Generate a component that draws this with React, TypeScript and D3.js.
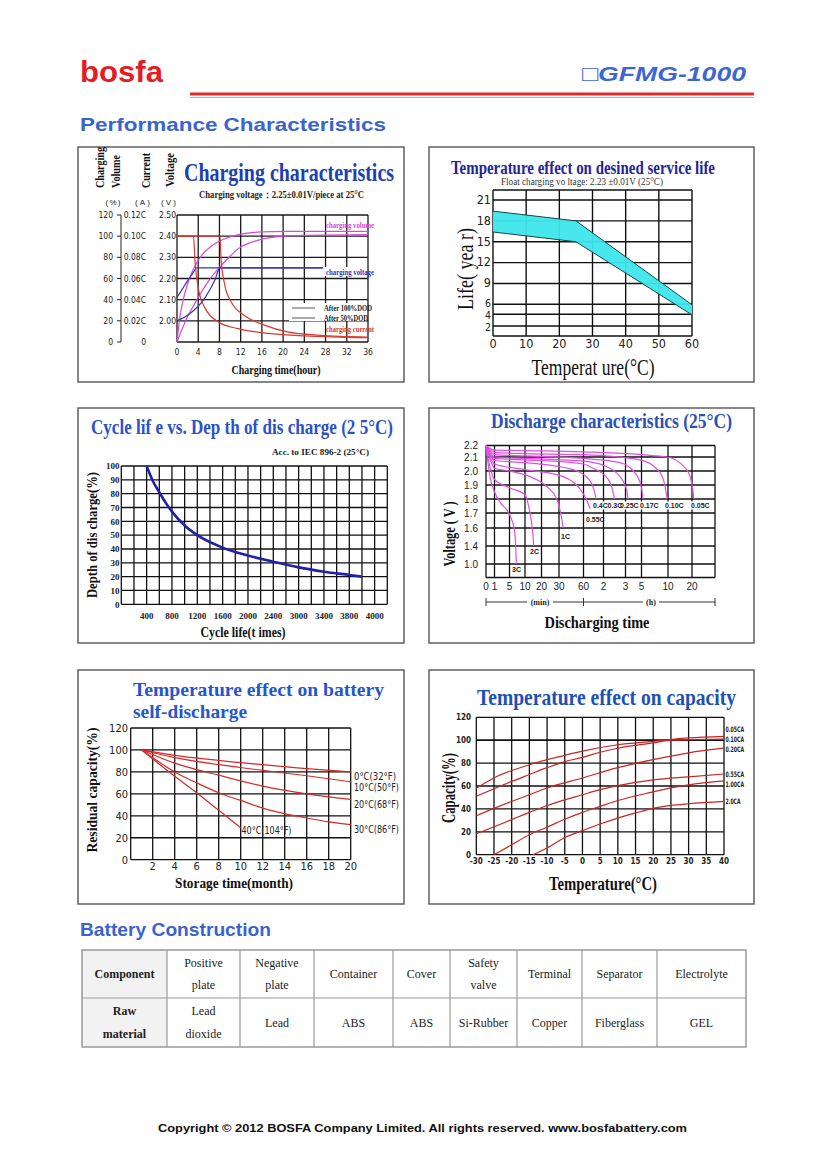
import * as React from "react";
import * as d3 from "d3";

type Pt = [number, number];

const serif = "'Liberation Serif', 'Times New Roman', serif";
const sans = "'Liberation Sans', Arial, sans-serif";
const narrow = "'Liberation Sans Narrow', 'DejaVu Sans Condensed', 'Liberation Sans', sans-serif";

// ---- charging characteristics ----
const chargeHourTicks = [0, 4, 8, 12, 16, 20, 24, 28, 32, 36];
const volumeTicks = [0, 20, 40, 60, 80, 100, 120];
const currentTicks = [0, 0.02, 0.04, 0.06, 0.08, 0.1, 0.12];
const currentLabels = ["0", "0.02C", "0.04C", "0.06C", "0.08C", "0.10C", "0.12C"];
const voltageTicks = [2.0, 2.1, 2.2, 2.3, 2.4, 2.5];
const volumeAfter50: Pt[] = [[0, 0], [0.5, 22], [1, 36], [2, 55], [3, 68], [3.75, 75], [5, 84], [6.6, 91], [9, 97.5], [12, 102], [16, 104], [20, 104.5], [36, 104.5]];
const volumeAfter100: Pt[] = [[0, 0], [2, 24], [3.3, 36], [6, 58], [8.1, 71], [10, 81], [11.5, 88], [15.2, 96], [20, 100], [24, 100.8], [36, 101.5]];
const currentAfter50: Pt[] = [[0, 0.1], [3.1, 0.1], [3.4, 0.076], [4, 0.051], [5.3, 0.032], [7.8, 0.019], [11.5, 0.0126], [17.7, 0.0079], [24, 0.0057], [36, 0.004]];
const currentAfter100: Pt[] = [[0, 0.1], [8.1, 0.1], [8.3, 0.079], [9, 0.054], [10.2, 0.038], [12.7, 0.025], [16.5, 0.016], [20.8, 0.0095], [27, 0.0063], [36, 0.0047]];
const voltageAfter50: Pt[] = [[0, 2.11], [1, 2.15], [2, 2.19], [3, 2.225], [3.7, 2.25], [27.5, 2.25]];
const voltageAfter100: Pt[] = [[0, 2.0], [2.2, 2.03], [5.3, 2.11], [7.1, 2.19], [8.1, 2.25], [27.5, 2.25]];

// ---- service life vs temperature ----
const lifeTempTicks = [0, 10, 20, 30, 40, 50, 60];
const lifeYearTicks = [2, 4, 6, 9, 12, 15, 18, 21];
const lifeTemps = [0, 25, 60];
const lifeUpper = [19.4, 18, 5.9];
const lifeLower = [16.4, 15, 3.9];

// ---- cycle life ----
const cycleTickValues = [400, 800, 1200, 1600, 2000, 2400, 2800, 3200, 3600, 4000];
const cycleTickLabels = ["400", "800", "1200", "1600", "2000", "2400", "3000", "3400", "3800", "4000"];
const cycleCounts = [400, 500, 600, 700, 800, 1000, 1200, 1600, 2000, 2400, 2800, 3200, 3600, 3800];
const cycleDod = [100, 89, 81, 73.5, 67, 57, 50, 41, 35.2, 30.8, 26.7, 23.6, 21.2, 20];

// ---- discharge characteristics (time in minutes) ----
const dischargeTimeTicks = [0, 1, 5, 10, 20, 30, 60, 120, 180, 300, 600, 1200];
const dischargeTimeLabels = ["0", "1", "5", "10", "20", "30", "60", "2", "3", "5", "10", "20"];
const dischargeVoltTicks = [1.0, 1.4, 1.6, 1.7, 1.8, 1.9, 2.0, 2.1, 2.2];
const dischargeRates = ["3C", "2C", "1C", "0.55C", "0.4C", "0.3C", "0.25C", "0.17C", "0.10C", "0.05C"];
const dischargeCurves: Pt[][] = [
  [[0, 2.19], [0.5, 1.95], [1, 1.85], [3, 1.76], [4.6, 1.71], [5.8, 1.65], [6.5, 1.6], [7, 1.4], [7.2, 1.0]],
  [[0, 2.19], [0.5, 2.02], [1, 1.94], [5, 1.88], [10, 1.83], [12, 1.76], [13.5, 1.67], [14.7, 1.55], [15.3, 1.4]],
  [[0, 2.19], [0.5, 2.08], [1, 2.02], [5, 2.0], [13, 1.96], [23, 1.89], [28.7, 1.8], [32, 1.7], [34, 1.64], [35, 1.6]],
  [[0, 2.2], [1, 2.05], [10, 2.01], [35, 1.96], [56, 1.87], [66, 1.81], [75, 1.76], [80, 1.73]],
  [[0, 2.2], [1, 2.075], [10, 2.06], [47.5, 2.01], [79.5, 1.93], [92, 1.86], [98, 1.8]],
  [[0, 2.2], [1, 2.09], [10, 2.08], [60, 2.05], [79.5, 2.03], [133, 1.94], [145, 1.86], [150, 1.8]],
  [[0, 2.2], [1, 2.1], [10, 2.09], [60, 2.07], [120, 2.04], [165, 1.96], [190, 1.86], [199, 1.8]],
  [[0, 2.2], [1, 2.12], [10, 2.11], [60, 2.09], [165, 2.06], [264, 1.97], [300, 1.88], [317, 1.8]],
  [[0, 2.2], [1, 2.14], [10, 2.13], [60, 2.12], [289, 2.08], [509, 1.99], [570, 1.88], [590, 1.8]],
  [[0, 2.2], [1, 2.16], [10, 2.155], [60, 2.145], [585, 2.1], [1067, 2.01], [1230, 1.88], [1290, 1.8]],
];

// ---- self-discharge ----
const storageMonthTicks = [2, 4, 6, 8, 10, 12, 14, 16, 18, 20];
const residualTicks = [0, 20, 40, 60, 80, 100, 120];
const storageTemps = ["0°C(32°F)", "10°C(50°F)", "20°C(68°F)", "30°C(86°F)", "40°C(104°F)"];
const storageCurves: Pt[][] = [
  [[1, 100], [4, 95], [10, 88.5], [16, 83], [20, 80]],
  [[1, 100], [4, 93], [10, 84], [16, 76.5], [20, 71]],
  [[1, 100], [4, 88], [8, 77], [12, 67], [16, 60], [20, 55]],
  [[1, 100], [4, 80], [6, 70], [8, 61], [10, 54], [12, 47], [14, 42], [16, 38], [18, 34.5], [20, 32]],
  [[1, 100], [4, 76], [6, 61], [8, 45], [10, 29]],
];

// ---- capacity vs temperature ----
const capTempTicks = [-30, -25, -20, -15, -10, -5, 0, 5, 10, 15, 20, 25, 30, 35, 40];
const capTicks = [0, 20, 40, 60, 80, 100, 120];
const capRates = ["0.05CA", "0.10CA", "0.20CA", "0.55CA", "1.00CA", "2.0CA"];
const capCurves: Pt[][] = [
  [[-30, 58], [-25, 67], [-15, 78.6], [-5, 86.8], [0, 90.5], [10, 96], [20, 99], [30, 102], [40, 103.4]],
  [[-30, 51], [-20, 64], [-15, 70], [-10, 76], [-5, 81.3], [0, 85], [5, 89.5], [10, 93], [20, 97.6], [25, 100], [40, 101]],
  [[-30, 34], [-25, 40.5], [-15, 52.4], [-10, 58.3], [0, 67], [10, 76], [20, 83], [30, 89], [40, 93]],
  [[-30, 18.3], [-20, 30.6], [-15, 37], [-10, 43], [0, 52.4], [5, 56.8], [10, 60.3], [20, 65.3], [30, 68], [40, 70.5]],
  [[-25, 0], [-20, 8.7], [-15, 17.5], [-10, 24], [-5, 31], [0, 37], [5, 42.2], [10, 47.3], [20, 54.8], [25, 58.3], [30, 61], [40, 64.5]],
  [[-14, 0], [-10, 5.8], [-5, 15], [0, 21], [5, 26.8], [10, 32], [15, 36.4], [20, 40.5], [25, 43], [30, 44.5], [40, 46.6]],
];

// ---- construction table ----
const componentNames = [["Positive", "plate"], ["Negative", "plate"], ["Container"], ["Cover"], ["Safety", "valve"], ["Terminal"], ["Separator"], ["Electrolyte"]];
const rawMaterials = [["Lead", "dioxide"], ["Lead"], ["ABS"], ["ABS"], ["Si-Rubber"], ["Copper"], ["Fiberglass"], ["GEL"]];

function curveLine(x: (v: number) => number, y: (v: number) => number, pts: Pt[]) {
  return d3.line<Pt>().x((d) => x(d[0])).y((d) => y(d[1])).curve(d3.curveMonotoneX)(pts) || "";
}

function PanelBox({ x, y, w, h }: { x: number; y: number; w: number; h: number }) {
  return <rect x={x} y={y} width={w} height={h} fill="#fff" stroke="#555" strokeWidth={1.4} />;
}

function VText({ x, y, len, size, children, anchor = "middle", weight = "bold", family = serif, fill = "#111" }: any) {
  return (
    <text transform={`translate(${x},${y}) rotate(-90)`} textAnchor={anchor} fontFamily={family} fontWeight={weight}
      fontSize={size} fill={fill} textLength={len} lengthAdjust="spacingAndGlyphs">
      {children}
    </text>
  );
}

function ChargingPanel() {
  const x = d3.scaleLinear([0, 36], [177, 368]);
  const yVol = d3.scaleLinear([0, 120], [342, 215]);
  const yCur = d3.scaleLinear([0, 0.12], [342, 215]);
  const yV = d3.scaleLinear([1.9, 2.5], [342, 215]);
  const magenta = "#d848d8";
  const blue = "#3434b4";
  const red = "#d83a30";
  return (
    <g>
      <PanelBox x={78} y={147} w={326} h={235} />
      {chargeHourTicks.map((t) => (
        <line key={"v" + t} x1={x(t)} x2={x(t)} y1={215} y2={342} stroke="#1a1a1a" strokeWidth={1.3} />
      ))}
      {volumeTicks.map((t) => (
        <line key={"h" + t} x1={177} x2={368} y1={yVol(t)} y2={yVol(t)} stroke="#1a1a1a" strokeWidth={1.3} />
      ))}
      <line x1={121} x2={121} y1={215} y2={342} stroke="#222" strokeWidth={1} />
      {volumeTicks.map((t) => (
        <g key={"vl" + t}>
          <line x1={117} x2={121} y1={yVol(t)} y2={yVol(t)} stroke="#222" />
          <text x={113} y={yVol(t) + 3} textAnchor="end" fontFamily={narrow} fontSize={8.5} fill="#222">{t}</text>
        </g>
      ))}
      {currentTicks.map((t, i) => (
        <text key={"cl" + t} x={146} y={yCur(t) + 3} textAnchor="end" fontFamily={narrow} fontSize={8.5} fill="#222">{currentLabels[i]}</text>
      ))}
      {voltageTicks.map((t) => (
        <text key={"vt" + t} x={159} y={yV(t) + 3} fontFamily={narrow} fontSize={8.5} fill="#222">{t.toFixed(2)}</text>
      ))}
      {chargeHourTicks.map((t) => (
        <text key={"xl" + t} x={x(t)} y={355} textAnchor="middle" fontFamily={narrow} fontSize={8.5} fill="#222">{t}</text>
      ))}
      <VText x={104} y={188} len={41} size={12.5} anchor="start">Charging</VText>
      <VText x={119.5} y={188} len={33} size={12.5} anchor="start">Volume</VText>
      <VText x={150} y={188} len={35} size={12.5} anchor="start">Current</VText>
      <VText x={174} y={187} len={34} size={12.5} anchor="start">Voltage</VText>
      <text x={113} y={205} textAnchor="middle" fontFamily={sans} fontSize={8} textLength={15} fill="#222">(%)</text>
      <text x={142.5} y={205} textAnchor="middle" fontFamily={sans} fontSize={8} textLength={15} fill="#222">(A)</text>
      <text x={168.5} y={205} textAnchor="middle" fontFamily={sans} fontSize={8} textLength={15} fill="#222">(V)</text>
      <text x={184} y={181} fontFamily={serif} fontWeight="bold" fontSize={25} fill="#2040b0" textLength={210} lengthAdjust="spacingAndGlyphs">Charging characteristics</text>
      <text x={199} y={198} fontFamily={serif} fontWeight="bold" fontSize={9.5} fill="#222" textLength={165} lengthAdjust="spacingAndGlyphs">Charging voltage：2.25±0.01V/piece at 25°C</text>
      <path d={curveLine(x, yVol, volumeAfter50)} fill="none" stroke={magenta} strokeWidth={1.2} />
      <path d={curveLine(x, yVol, volumeAfter100)} fill="none" stroke={magenta} strokeWidth={1.2} />
      <path d={curveLine(x, yV, voltageAfter50)} fill="none" stroke={blue} strokeWidth={1.2} />
      <path d={curveLine(x, yV, voltageAfter100)} fill="none" stroke={blue} strokeWidth={1.2} />
      <path d={curveLine(x, yCur, currentAfter50)} fill="none" stroke={red} strokeWidth={1.2} />
      <path d={curveLine(x, yCur, currentAfter100)} fill="none" stroke={red} strokeWidth={1.2} />
      <text x={326} y={228} fontFamily={serif} fontWeight="bold" fontSize={8} fill={magenta} textLength={48} lengthAdjust="spacingAndGlyphs">charging volume</text>
      <rect x={325} y={267} width={42} height={9} fill="#fff" />
      <text x={326} y={275} fontFamily={serif} fontWeight="bold" fontSize={8} fill={blue} textLength={48} lengthAdjust="spacingAndGlyphs">charging voltage</text>
      <text x={326} y={332} fontFamily={serif} fontWeight="bold" fontSize={8} fill={red} textLength={48} lengthAdjust="spacingAndGlyphs">charging current</text>
      <rect x={289} y={303} width={78} height={18} fill="#fff" />
      <line x1={292} x2={315} y1={308} y2={308} stroke="#555" strokeWidth={1} />
      <line x1={292} x2={315} y1={318} y2={318} stroke="#555" strokeWidth={1} />
      <text x={324} y={311} fontFamily={serif} fontWeight="bold" fontSize={8} fill="#222" textLength={48} lengthAdjust="spacingAndGlyphs">After 100%DOD</text>
      <text x={324} y={321} fontFamily={serif} fontWeight="bold" fontSize={8} fill="#222" textLength={44} lengthAdjust="spacingAndGlyphs">After 50%DOD</text>
      <text x={276} y={374} textAnchor="middle" fontFamily={serif} fontWeight="bold" fontSize={12.5} fill="#111" textLength={89} lengthAdjust="spacingAndGlyphs">Charging time(hour)</text>
    </g>
  );
}

function LifePanel() {
  const x = d3.scaleLinear([0, 60], [493, 692]);
  const y = d3.scaleLinear().domain([0, 2, 4, 6, 21, 22.45]).range([336, 326, 314.3, 304.3, 200, 190]);
  const band = d3.area<number>()
    .x((d, i) => x(lifeTemps[i]))
    .y0((d, i) => y(lifeLower[i]))
    .y1((d) => y(d));
  const edge = (vals: number[]) => d3.line<number>().x((d, i) => x(lifeTemps[i])).y((d) => y(d))(vals) || "";
  const nudge: Record<number, number> = { 2: 1.5, 4: 0.5, 6: -1 };
  return (
    <g>
      <PanelBox x={429} y={147} w={325} h={235} />
      {lifeTempTicks.map((t) => (
        <line key={"v" + t} x1={x(t)} x2={x(t)} y1={190} y2={336} stroke="#111" strokeWidth={1.4} />
      ))}
      {[0, ...lifeYearTicks, 22.45].map((t) => (
        <line key={"h" + t} x1={493} x2={692} y1={y(t)} y2={y(t)} stroke="#111" strokeWidth={1.4} />
      ))}
      <path d={band(lifeUpper) || ""} fill="#3ee6ec" fillOpacity={0.95} />
      <path d={edge(lifeUpper)} fill="none" stroke="#124848" strokeWidth={1} />
      <path d={edge(lifeLower)} fill="none" stroke="#124848" strokeWidth={1} />
      {lifeYearTicks.map((t) => (
        <text key={"yl" + t} x={491} y={y(t) + 3.8 + (nudge[t] || 0)} textAnchor="end" fontFamily={narrow} fontSize={t < 9 ? 10.5 : 12.5} fill="#222">{t}</text>
      ))}
      {lifeTempTicks.map((t) => (
        <text key={"xl" + t} x={x(t)} y={348} textAnchor="middle" fontFamily={narrow} fontSize={12.5} fill="#222">{t}</text>
      ))}
      <text x={451} y={174} fontFamily={serif} fontWeight="bold" fontSize={18} fill="#24249c" textLength={264} lengthAdjust="spacingAndGlyphs">Temperature effect on desined service life</text>
      <text x={501} y={185} fontFamily={serif} fontSize={10} fill="#333" textLength={162} lengthAdjust="spacingAndGlyphs">Float charging vo  ltage:  2.23 ±0.01V    (25°C)</text>
      <VText x={473} y={269} len={82} size={23} weight="normal">Life(  yea r)</VText>
      <text x={593} y={375} textAnchor="middle" fontFamily={serif} fontSize={23} fill="#111" textLength={123} lengthAdjust="spacingAndGlyphs">Temperat ure(°C)</text>
    </g>
  );
}

function CyclePanel() {
  const x = d3.scaleLinear([0, 4200], [121.3, 387.3]);
  const y = d3.scaleLinear([0, 100], [604.3, 466]);
  const path = d3.line<number>().x((d, i) => x(cycleCounts[i])).y((d) => y(d)).curve(d3.curveMonotoneX)(cycleDod) || "";
  return (
    <g>
      <PanelBox x={78} y={408} w={326} h={235} />
      {d3.range(0, 4201, 200).map((t) => (
        <line key={"v" + t} x1={x(t)} x2={x(t)} y1={466} y2={604.3} stroke="#111" strokeWidth={1.3} />
      ))}
      {d3.range(0, 101, 10).map((t) => (
        <line key={"h" + t} x1={121.3} x2={387.3} y1={y(t)} y2={y(t)} stroke="#111" strokeWidth={1.3} />
      ))}
      <path d={path} fill="none" stroke="#2020a8" strokeWidth={2.6} />
      {d3.range(0, 101, 10).map((t) => (
        <text key={"yl" + t} x={119.5} y={y(t) + 3.2} textAnchor="end" fontFamily={serif} fontWeight="bold" fontSize={9} fill="#222">{t}</text>
      ))}
      {cycleTickValues.map((t, i) => (
        <text key={"xl" + t} x={x(t)} y={618.5} textAnchor="middle" fontFamily={serif} fontWeight="bold" fontSize={9} fill="#222">{cycleTickLabels[i]}</text>
      ))}
      <text x={91} y={434} fontFamily={serif} fontWeight="bold" fontSize={22} fill="#2a52c6" textLength={302} lengthAdjust="spacingAndGlyphs">Cycle lif e vs. Dep th of dis charge (2 5°C)</text>
      <text x={272} y={455} fontFamily={serif} fontWeight="bold" fontSize={9} fill="#222" textLength={97} lengthAdjust="spacingAndGlyphs">Acc. to IEC 896-2   (25°C)</text>
      <VText x={97} y={535} len={126} size={14}>Depth of dis charge(%)</VText>
      <text x={243} y={637} textAnchor="middle" fontFamily={serif} fontWeight="bold" fontSize={14} fill="#111" textLength={85} lengthAdjust="spacingAndGlyphs">Cycle life(t imes)</text>
    </g>
  );
}

function DischargePanel() {
  const x = d3.scaleLinear()
    .domain([0, 1, 5, 10, 20, 30, 60, 120, 180, 300, 600, 1200, 2400])
    .range([486, 494.5, 509.5, 525, 541.5, 559, 583.5, 603.5, 625.5, 641.5, 668, 692, 715]);
  const y = d3.scaleLinear()
    .domain([0.8, 1.0, 1.4, 1.6, 1.7, 1.8, 1.9, 2.0, 2.1, 2.2])
    .range([577.5, 564, 546, 528, 513, 499, 485, 471, 457, 445.5]);
  const col = "#e050e0";
  const rowLabelX = [593, 607.5, 620, 640, 665, 691];
  return (
    <g>
      <PanelBox x={429} y={408} w={325} h={235} />
      {[...dischargeTimeTicks, 2400].map((t) => (
        <line key={"v" + t} x1={x(t)} x2={x(t)} y1={445.5} y2={577.5} stroke="#111" strokeWidth={1.3} />
      ))}
      {[0.8, ...dischargeVoltTicks].map((t) => (
        <line key={"h" + t} x1={486} x2={715} y1={y(t)} y2={y(t)} stroke="#111" strokeWidth={1.3} />
      ))}
      <rect x={589} y={501.5} width={125} height={8} fill="#fff" />
      {dischargeCurves.map((c, i) => (
        <path key={dischargeRates[i]} d={curveLine(x, y, c)} fill="none" stroke={col} strokeWidth={1.2} />
      ))}
      {dischargeRates.slice(4).map((r, i) => (
        <text key={"rl" + r} x={rowLabelX[i]} y={507.5} fontFamily={sans} fontWeight="bold" fontSize={7} fill="#222">{r}</text>
      ))}
      <text x={586} y={521.5} fontFamily={sans} fontWeight="bold" fontSize={7} fill="#222">0.55C</text>
      <text x={561} y={539} fontFamily={sans} fontWeight="bold" fontSize={7} fill="#222">1C</text>
      <text x={530} y={554} fontFamily={sans} fontWeight="bold" fontSize={7} fill="#222">2C</text>
      <text x={512} y={571.5} fontFamily={sans} fontWeight="bold" fontSize={7} fill="#222">3C</text>
      {dischargeVoltTicks.map((t) => (
        <text key={"yl" + t} x={478} y={y(t) + 3.5} textAnchor="end" fontFamily={sans} fontSize={10} fill="#222">{t.toFixed(1)}</text>
      ))}
      {dischargeTimeTicks.map((t, i) => (
        <text key={"xl" + t} x={x(t)} y={590} textAnchor="middle" fontFamily={sans} fontSize={10} fill="#222">{dischargeTimeLabels[i]}</text>
      ))}
      <line x1={486} x2={715} y1={602} y2={602} stroke="#333" strokeWidth={1} />
      {[0, 60, 2400].map((t) => (
        <line key={"b" + t} x1={x(t)} x2={x(t)} y1={598} y2={606} stroke="#333" strokeWidth={1} />
      ))}
      <rect x={527} y={597} width={26} height={9} fill="#fff" />
      <rect x={643} y={597} width={16} height={9} fill="#fff" />
      <text x={540} y={605} textAnchor="middle" fontFamily={serif} fontWeight="bold" fontSize={8} fill="#222">(min)</text>
      <text x={651} y={605} textAnchor="middle" fontFamily={serif} fontWeight="bold" fontSize={8} fill="#222">(h)</text>
      <text x={491} y={428} fontFamily={serif} fontWeight="bold" fontSize={21} fill="#2a4fb8" textLength={241} lengthAdjust="spacingAndGlyphs">Discharge characteristics (25°C)</text>
      <VText x={455} y={534} len={65} size={16}>Voltage ( V )</VText>
      <text x={597} y={628} textAnchor="middle" fontFamily={serif} fontWeight="bold" fontSize={16} fill="#111" textLength={105} lengthAdjust="spacingAndGlyphs">Discharging time</text>
    </g>
  );
}

function SelfDischargePanel() {
  const x = d3.scaleLinear([0, 20], [130.7, 350.7]);
  const y = d3.scaleLinear([0, 120], [859.7, 728]);
  const red = "#d42a2a";
  const labelPos: Pt[] = [[354, 780], [354, 791], [354, 808], [354, 833], [241.5, 833.5]];
  const labelLen = [42, 45, 45, 45, 50];
  return (
    <g>
      <PanelBox x={78} y={670} w={326} h={234} />
      {[0, ...storageMonthTicks].map((t) => (
        <line key={"v" + t} x1={x(t)} x2={x(t)} y1={728} y2={859.7} stroke="#111" strokeWidth={1.3} />
      ))}
      {residualTicks.map((t) => (
        <line key={"h" + t} x1={130.7} x2={350.7} y1={y(t)} y2={y(t)} stroke="#111" strokeWidth={1.3} />
      ))}
      {storageCurves.map((c, i) => (
        <path key={storageTemps[i]} d={curveLine(x, y, c)} fill="none" stroke={red} strokeWidth={1.2} />
      ))}
      {storageTemps.map((s, i) => (
        <text key={"sl" + i} x={labelPos[i][0]} y={labelPos[i][1]} fontFamily={narrow} fontSize={10} fill="#222" textLength={labelLen[i]} lengthAdjust="spacingAndGlyphs">{s}</text>
      ))}
      {residualTicks.map((t) => (
        <text key={"yl" + t} x={128} y={y(t) + 4} textAnchor="end" fontFamily={narrow} fontSize={11} fill="#222">{t}</text>
      ))}
      {storageMonthTicks.map((t) => (
        <text key={"xl" + t} x={x(t)} y={870} textAnchor="middle" fontFamily={narrow} fontSize={11} fill="#222">{t}</text>
      ))}
      <text x={133} y={696} fontFamily={serif} fontWeight="bold" fontSize={19} fill="#2456cc" textLength={251} lengthAdjust="spacingAndGlyphs">Temperature effect on battery</text>
      <text x={133} y={718} fontFamily={serif} fontWeight="bold" fontSize={19} fill="#2456cc" textLength={114} lengthAdjust="spacingAndGlyphs">self-discharge</text>
      <VText x={97} y={790} len={125} size={14}>Residual capacity(%)</VText>
      <text x={234} y={888} textAnchor="middle" fontFamily={serif} fontWeight="bold" fontSize={14} fill="#111" textLength={118} lengthAdjust="spacingAndGlyphs">Storage time(month)</text>
    </g>
  );
}

function CapacityPanel() {
  const x = d3.scaleLinear([-30, 40], [476.3, 724]);
  const y = d3.scaleLinear([0, 120], [854.7, 717.3]);
  const red = "#cc2424";
  const labelY = [729, 739.5, 749.7, 774.7, 784, 801.3];
  return (
    <g>
      <PanelBox x={429} y={670} w={325} h={234} />
      {capTempTicks.map((t) => (
        <line key={"v" + t} x1={x(t)} x2={x(t)} y1={717.3} y2={854.7} stroke="#111" strokeWidth={1.3} />
      ))}
      {capTicks.map((t) => (
        <line key={"h" + t} x1={476.3} x2={724} y1={y(t)} y2={y(t)} stroke="#111" strokeWidth={t === 100 ? 1.8 : 1.3} />
      ))}
      {capCurves.map((c, i) => (
        <path key={capRates[i]} d={curveLine(x, y, c)} fill="none" stroke={red} strokeWidth={1.2} />
      ))}
      {capRates.map((r, i) => (
        <text key={"cl" + r} x={725.5} y={labelY[i] + 2.5} fontFamily={narrow} fontWeight="bold" fontSize={7.5} fill="#222" textLength={r.length > 5 ? 18.5 : 15} lengthAdjust="spacingAndGlyphs">{r}</text>
      ))}
      {capTicks.map((t) => (
        <text key={"yl" + t} x={471} y={y(t) + 3} textAnchor="end" fontFamily={narrow} fontWeight="bold" fontSize={8} fill="#222">{t}</text>
      ))}
      {capTempTicks.map((t) => (
        <text key={"xl" + t} x={x(t)} y={864} textAnchor="middle" fontFamily={narrow} fontWeight="bold" fontSize={8} fill="#222">{t}</text>
      ))}
      <text x={477} y={705} fontFamily={serif} fontWeight="bold" fontSize={24} fill="#2050b4" textLength={259} lengthAdjust="spacingAndGlyphs">Temperature effect on capacity</text>
      <VText x={455} y={788} len={70} size={18}>Capacity(%)</VText>
      <text x={603} y={890} textAnchor="middle" fontFamily={serif} fontWeight="bold" fontSize={18} fill="#111" textLength={108} lengthAdjust="spacingAndGlyphs">Temperature(°C)</text>
    </g>
  );
}

function ConstructionTable() {
  const cols = [82, 167, 240, 314, 393, 450, 517, 582, 657, 746];
  const top = 950, mid = 998, bottom = 1047;
  const cellText = (lines: string[], cx: number, y0: number, y1: number, bold: boolean, key: string) => {
    const cy = (y0 + y1) / 2;
    const gap = 22.5;
    return lines.map((s, i) => (
      <text key={key + i} x={cx} y={cy + 4 + (i - (lines.length - 1) / 2) * gap} textAnchor="middle" fontFamily={serif}
        fontWeight={bold ? "bold" : "normal"} fontSize={12} fill="#222">{s}</text>
    ));
  };
  return (
    <g>
      <rect x={cols[0]} y={top} width={cols[1] - cols[0]} height={bottom - top} fill="#f2f2f2" />
      <rect x={cols[0]} y={top} width={cols[9] - cols[0]} height={bottom - top} fill="none" stroke="#999" strokeWidth={1.5} />
      <line x1={cols[0]} x2={cols[9]} y1={mid} y2={mid} stroke="#999" strokeWidth={1.2} />
      {cols.slice(1, 9).map((c) => (
        <line key={"c" + c} x1={c} x2={c} y1={top} y2={bottom} stroke="#999" strokeWidth={1.2} />
      ))}
      {cellText(["Component"], (cols[0] + cols[1]) / 2, top, mid, true, "comp")}
      {cellText(["Raw", "material"], (cols[0] + cols[1]) / 2, mid, bottom, true, "raw")}
      {componentNames.map((n, i) => cellText(n, (cols[i + 1] + cols[i + 2]) / 2, top, mid, false, "n" + i))}
      {rawMaterials.map((m, i) => cellText(m, (cols[i + 1] + cols[i + 2]) / 2, mid, bottom, false, "m" + i))}
    </g>
  );
}

export default function App() {
  return (
    <div style={{ position: "absolute", left: 0, top: 0 }}>
      <svg width={826} height={1169} viewBox="0 0 826 1169" style={{ display: "block", background: "#fff" }}>
        <rect x={0} y={0} width={826} height={1169} fill="#fff" />
        <text x={80} y={82} fontFamily={sans} fontWeight="bold" fontSize={29} fill="#e51c23" textLength={83} lengthAdjust="spacingAndGlyphs">bosfa</text>
        <text x={582} y={81} fontFamily={sans} fontWeight="bold" fontStyle="italic" fontSize={21} fill="#3d66d4" textLength={164} lengthAdjust="spacingAndGlyphs">□GFMG-1000</text>
        <line x1={190} x2={754} y1={94} y2={94} stroke="#e22a2a" strokeWidth={3} />
        <line x1={190} x2={754} y1={97.5} y2={97.5} stroke="#f29a9a" strokeWidth={1} />
        <text x={80} y={131} fontFamily={sans} fontWeight="bold" fontSize={19} fill="#3a63cf" textLength={306} lengthAdjust="spacingAndGlyphs">Performance Characteristics</text>
        <ChargingPanel />
        <LifePanel />
        <CyclePanel />
        <DischargePanel />
        <SelfDischargePanel />
        <CapacityPanel />
        <text x={80} y={936} fontFamily={sans} fontWeight="bold" fontSize={19} fill="#3a63cf" textLength={191} lengthAdjust="spacingAndGlyphs">Battery Construction</text>
        <ConstructionTable />
        <text x={158} y={1132} fontFamily={sans} fontWeight="bold" fontSize={11.5} fill="#111" textLength={529} lengthAdjust="spacingAndGlyphs">Copyright © 2012 BOSFA Company Limited. All rights reserved. www.bosfabattery.com</text>
      </svg>
    </div>
  );
}
